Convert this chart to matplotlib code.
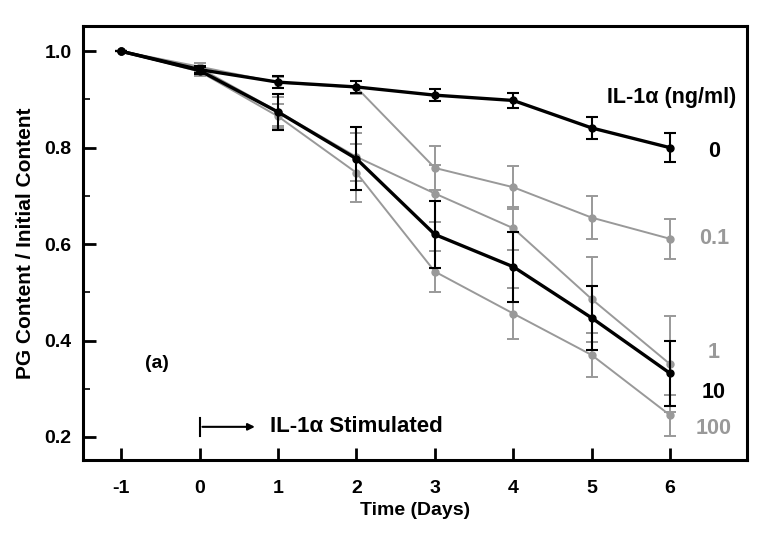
import matplotlib
matplotlib.use("Agg")
import matplotlib.pyplot as plt
from matplotlib.ticker import MultipleLocator

plt.rcParams['font.family'] = ['Liberation Sans', 'DejaVu Sans']
plt.rcParams['font.weight'] = 'bold'

days = [-1, 0, 1, 2, 3, 4, 5, 6]
doses = ["0", "0.1", "1", "10", "100"]
c0 = [1.0, 0.962, 0.936, 0.926, 0.909, 0.898, 0.841, 0.800]
e0 = [0, 0.008, 0.012, 0.013, 0.013, 0.015, 0.023, 0.030]
c01 = [1.0, 0.968, 0.935, 0.925, 0.758, 0.718, 0.655, 0.611]
e01 = [0, 0.008, 0.012, 0.013, 0.045, 0.045, 0.045, 0.042]
c1 = [1.0, 0.965, 0.875, 0.781, 0.705, 0.633, 0.486, 0.351]
e1 = [0, 0.010, 0.030, 0.050, 0.060, 0.045, 0.088, 0.100]
c10 = [1.0, 0.960, 0.874, 0.777, 0.620, 0.553, 0.447, 0.332]
e10 = [0, 0.008, 0.038, 0.065, 0.070, 0.073, 0.067, 0.068]
c100 = [1.0, 0.958, 0.865, 0.748, 0.543, 0.456, 0.370, 0.245]
e100 = [0, 0.010, 0.025, 0.060, 0.042, 0.053, 0.045, 0.042]
label_y = [0.792, 0.612, 0.376, 0.292, 0.217]

GRAY = '#999999'
fig = plt.figure(figsize=(7.74, 5.35), dpi=100)
ax = fig.add_axes([0.107, 0.140, 0.858, 0.811])

for y, e in [(c01, e01), (c1, e1), (c100, e100)]:
    ax.errorbar(days, y, yerr=e, color=GRAY, lw=1.4, marker='o', ms=5,
                capsize=4, elinewidth=1.4, capthick=1.4, zorder=2)
for y, e in [(c0, e0), (c10, e10)]:
    ax.errorbar(days, y, yerr=e, color='black', lw=2.4, marker='o', ms=5,
                capsize=4, elinewidth=1.5, capthick=1.5, zorder=3)

ax.set_xlim(-1.49, 6.98)
ax.set_ylim(0.152, 1.052)
ax.set_xticks(days)
ax.set_xticklabels([str(d) for d in days], fontsize=14, fontweight='bold')
ax.yaxis.set_minor_locator(MultipleLocator(0.1))
ax.set_yticks([0.2, 0.4, 0.6, 0.8, 1.0])
ax.set_yticklabels(['0.2', '0.4', '0.6', '0.8', '1.0'], fontsize=14, fontweight='bold')
ax.tick_params(axis='both', which='major', direction='in', length=9, width=2)
ax.tick_params(axis='x', pad=14)
ax.tick_params(axis='y', pad=8)
ax.tick_params(axis='y', which='minor', direction='in', length=5, width=1.2)
ax.tick_params(top=False, right=False)
for s in ax.spines.values():
    s.set_linewidth(2.2)

ax.set_xlabel('Time (Days)', fontsize=14, fontweight='bold', labelpad=4)
ax.set_ylabel('PG Content / Initial Content', fontsize=15, fontweight='bold', labelpad=7)

ax.text(6.85, 0.905, 'IL-1\u03b1 (ng/ml)', fontsize=15.5, fontweight='bold', ha='right', va='center')
colors = ['black', GRAY, GRAY, 'black', GRAY]
for d, yv, c in zip(doses, label_y, colors):
    ax.text(6.56, yv, d, fontsize=15.5, fontweight='bold', color=c, ha='center', va='center')

ax.text(-0.55, 0.353, '(a)', fontsize=14, fontweight='bold', ha='center', va='center')
ax.plot([0, 0], [0.202, 0.240], color='black', lw=1.5)
ax.annotate('', xy=(0.74, 0.221), xytext=(0, 0.221),
            arrowprops=dict(arrowstyle='-|>', color='black', lw=1.5, mutation_scale=10))
ax.text(0.9, 0.221, 'IL-1\u03b1 Stimulated', fontsize=16, fontweight='bold', ha='left', va='center')

fig.savefig('out.png', dpi=100)
